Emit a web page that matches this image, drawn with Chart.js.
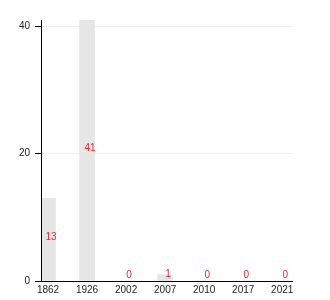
<!DOCTYPE html>
<html>
<head>
<meta charset="utf-8">
<script src="https://cdn.jsdelivr.net/npm/chart.js@4/dist/chart.umd.min.js"></script>
<style>
    html, body { margin: 0; padding: 0; background: #fff; }
    #wrap { width: 330px; height: 300px; position: relative; }
</style>
</head>
<body>
<div id="wrap"><canvas id="chart"></canvas></div>
<script>
// ===== data =====
const years = ["1862", "1926", "2002", "2007", "2010", "2017", "2021"];
const counts = [13, 41, 0, 1, 0, 0, 0];
const yTicks = [0, 20, 40];

// ===== value labels (red, inside the bars) + axis line on top =====
const valueLabels = {
    id: "valueLabels",
    afterDatasetsDraw(chart) {
        const ctx = chart.ctx;
        const area = chart.chartArea;
        const meta = chart.getDatasetMeta(0);
        ctx.save();

        // y axis line stays visible over the first bar
        ctx.strokeStyle = "#000";
        ctx.lineWidth = 1;
        ctx.beginPath();
        ctx.moveTo(Math.round(area.left) + 0.5, area.top);
        ctx.lineTo(Math.round(area.left) + 0.5, area.bottom);
        ctx.stroke();

        ctx.font = "10px 'Liberation Sans', Arial, sans-serif";
        ctx.fillStyle = "#e4283a";
        ctx.textAlign = "center";
        ctx.textBaseline = "middle";
        meta.data.forEach((bar, i) => {
            const mid = (bar.y + bar.base) / 2;
            const y = Math.min(mid - 2, bar.base - 6);
            ctx.fillText(String(counts[i]), bar.x + 3, y);
        });
        ctx.restore();
    }
};

const ctx = document.getElementById("chart").getContext("2d");

new Chart(ctx, {
    type: "bar",
    data: {
        datasets: [{
            data: counts.map((v, i) => ({ x: i, y: v })),
            backgroundColor: "#e6e6e6",
            borderWidth: 0,
            barThickness: 15
        }]
    },
    options: {
        responsive: true,
        maintainAspectRatio: false,
        animation: false,
        layout: { padding: { top: 20, right: 38, left: 0, bottom: 0 } },
        plugins: {
            legend: { display: false },
            tooltip: { enabled: false }
        },
        scales: {
            x: {
                type: "linear",
                offset: false,
                min: -0.18,
                max: 6.25,
                afterBuildTicks: s => { s.ticks = years.map((y, i) => ({ value: i })); },
                afterFit: s => { s.height = 19; },
                grid: { display: false, drawTicks: false, offset: false },
                border: { display: true, color: "#000", width: 1 },
                ticks: {
                    padding: 3,
                    maxRotation: 0,
                    autoSkip: false,
                    color: "#222",
                    font: { family: "'Liberation Sans', Arial, sans-serif", size: 10 },
                    callback: v => years[v]
                }
            },
            y: {
                min: 0,
                max: 41,
                afterBuildTicks: s => { s.ticks = yTicks.map(v => ({ value: v })); },
                afterFit: s => { s.width = 41; },
                grid: { color: "#ececec", tickColor: "#000", tickLength: 6 },
                border: { display: true, color: "#000", width: 1 },
                ticks: {
                    padding: 5,
                    color: "#222",
                    font: { family: "'Liberation Sans', Arial, sans-serif", size: 10 }
                }
            }
        }
    },
    plugins: [valueLabels]
});
</script>
</body>
</html>
